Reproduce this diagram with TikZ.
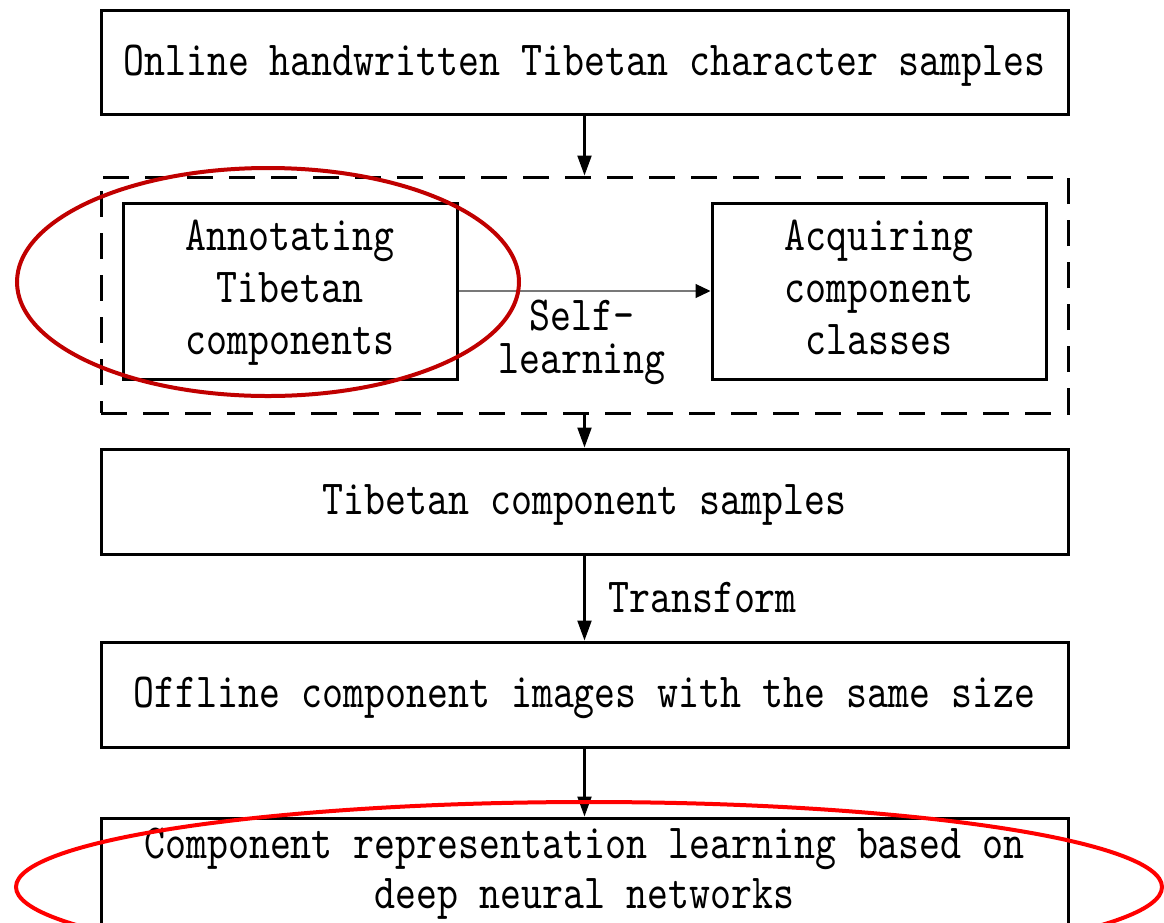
\documentclass[tikz,border=0pt]{standalone}
\usepackage{fontspec}
\usetikzlibrary{arrows.meta}
\newfontfamily\monof{lmmono10-regular.otf}[FakeStretch=0.815]
\definecolor{darkred}{RGB}{192,0,0}
\definecolor{thinline}{RGB}{120,120,120}
\newcommand\topst[1]{\rule{0pt}{#1}}
\newcommand\botst[1]{\rule[-#1]{0pt}{#1}}
\begin{document}
\begin{tikzpicture}[x=1pt,y=-1pt,
  txt/.style={font=\monof\fontsize{49}{52}\selectfont},
  stepbox/.style={draw, line width=3pt, inner sep=0pt, align=center, txt},
  onebox/.style={stepbox, text height=36pt, text depth=10pt},
  grpbox/.style={draw, line width=3pt, dash pattern=on 26pt off 16pt, inner sep=0pt},
  arr/.style={line width=2.2pt, -{Triangle[length=20pt,width=14pt]}},
  thinarr/.style={line width=1.2pt, draw=thinline, -{Triangle[length=15pt,width=14pt,color=black]}},
  mark ring/.style={line width=4pt}
]
\useasboundingbox (0,0) rectangle (1164,922);

\node[onebox, minimum width=967pt, minimum height=104pt] (s1) at (584.5,62) {Online handwritten Tibetan character samples};

\node[grpbox, minimum width=967pt, minimum height=236pt] (grp) at (584.5,295) {};

\node[stepbox, minimum width=334pt, minimum height=176pt] (ann) at (290,291) {\topst{34pt}Annotating\\Tibetan\\components\botst{12pt}};
\node[stepbox, minimum width=334pt, minimum height=176pt] (acq) at (879,291) {\topst{34pt}Acquiring\\component\\classes\botst{12pt}};

\draw[thinarr] (ann.east) -- (acq.west);
\node[font=\monof\fontsize{49}{43}\selectfont, align=center, anchor=north, inner sep=0pt] (sl) at (582,300) {\topst{30pt}Self-\\learning};

\node[onebox, minimum width=967pt, minimum height=105pt] (s3) at (584.5,501.5) {Tibetan component samples};

\node[onebox, minimum width=967pt, minimum height=105pt] (s4) at (584.5,694.5) {Offline component images with the same size};

\node[draw, line width=3pt, minimum width=967pt, minimum height=124pt, inner sep=0pt] (s5) at (584.5,880) {};
\node[font=\monof\fontsize{49}{50}\selectfont, align=center, anchor=north, inner sep=0pt] (t5) at (584.5,827) {\topst{31pt}Component representation learning based on\\deep neural networks};

\draw[arr] (s1.south) -- (grp.north);
\draw[arr] (grp.south) -- (s3.north);
\draw[arr] (s3.south) -- (s4.north);
\node[txt, anchor=base west, inner sep=0pt] (tf) at (608,612) {Transform};
\draw[arr] (s4.south) -- (s5.north);

\draw[mark ring, draw=darkred] (268,282) ellipse [x radius=251pt, y radius=114pt];
\draw[mark ring, draw=red] (589,887) ellipse [x radius=573pt, y radius=85pt];
\end{tikzpicture}
\end{document}
